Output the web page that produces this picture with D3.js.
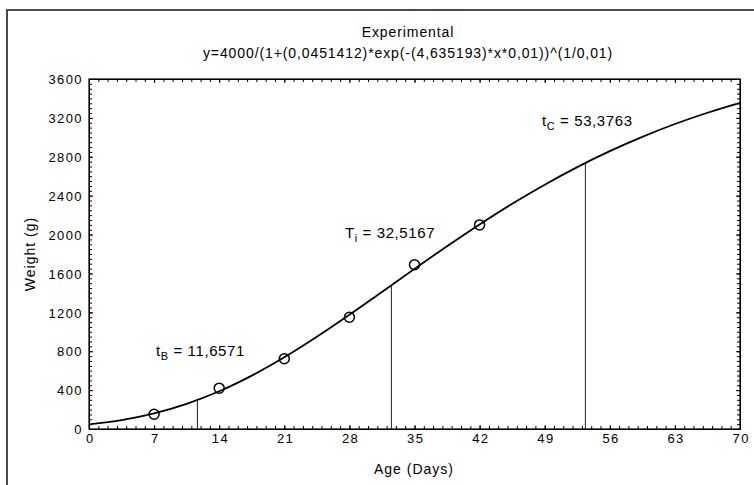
<!DOCTYPE html>
<html>
<head>
<meta charset="utf-8">
<script src="https://cdn.jsdelivr.net/npm/d3@7"></script>
<style>
html,body{margin:0;padding:0;background:#fff;}
svg{display:block;font-family:"Liberation Sans",Arial,sans-serif;}
</style>
</head>
<body>
<svg id="chart" width="754" height="485"></svg>
<script>
// ---- data ----
const titleText = "Experimental";
const formulaText = "y=4000/(1+(0,0451412)*exp(-(4,635193)*x*0,01))^(1/0,01)";
const xLabel = "Age (Days)";
const yLabel = "Weight (g)";
const xTickValues = [0, 7, 14, 21, 28, 35, 42, 49, 56, 63, 70];
const yTickValues = [0, 400, 800, 1200, 1600, 2000, 2400, 2800, 3200, 3600];
const curveDays = [0, 3.5, 7, 10.5, 14, 17.5, 21, 24.5, 28, 31.5, 35, 38.5, 42, 45.5, 49, 52.5, 56, 59.5, 63, 66.5, 70];
const curveWeight = [48, 92, 161, 259, 388, 549, 737, 948, 1174, 1410, 1647, 1880, 2104, 2316, 2513, 2694, 2858, 3005, 3137, 3253, 3355];
const obsDays = [7, 14, 21, 28, 35, 42];
const obsWeight = [152, 420, 722, 1150, 1690, 2099];
const markerMain = ["t", "T", "t"];
const markerSub = ["B", "i", "C"];
const markerDays = [11.6571, 32.5167, 53.3763];
const markerValueText = ["11,6571", "32,5167", "53,3763"];
const markerWeight = [298, 1479, 2737];

// ---- layout ----
const svg = d3.select("#chart");
const L = 89, R = 740, T = 79, B = 429;
const x = d3.scaleLinear().domain([0, 70]).range([L, R]);
const y = d3.scaleLinear().domain([0, 3600]).range([B, T]);

// outer frame
svg.append("rect").attr("x", 7).attr("y", 10).attr("width", 760).attr("height", 490)
  .attr("fill", "none").attr("stroke", "#4a4a4a").attr("stroke-width", 2);

// titles
svg.append("text").attr("x", 408).attr("y", 37).attr("text-anchor", "middle")
  .style("font-size", "14px").style("letter-spacing", "0.9px").text(titleText);
svg.append("text").attr("x", 408).attr("y", 58).attr("text-anchor", "middle")
  .style("font-size", "14px").style("letter-spacing", "0.9px").text(formulaText);

// axes (ticks inside on all four sides)
const minorX = d3.range(0, 71, 1);
const minorY = d3.range(0, 3601, 50);
function tickAxis(axisGen, tr) {
  return svg.append("g").attr("transform", tr).call(axisGen)
    .call(g => g.select(".domain").attr("stroke", "#000"))
    .call(g => g.selectAll(".tick line").attr("stroke", "#000"));
}
// minor ticks
tickAxis(d3.axisBottom(x).tickValues(minorX).tickSize(-3).tickFormat(""), `translate(0,${B})`);
tickAxis(d3.axisTop(x).tickValues(minorX).tickSize(-3).tickFormat(""), `translate(0,${T})`);
tickAxis(d3.axisLeft(y).tickValues(minorY).tickSize(-3).tickFormat(""), `translate(${L},0)`);
tickAxis(d3.axisRight(y).tickValues(minorY).tickSize(-3).tickFormat(""), `translate(${R},0)`);
// major ticks + labels
const xAx = tickAxis(d3.axisBottom(x).tickValues(xTickValues).tickSize(-4).tickPadding(14).tickFormat(d3.format("d")), `translate(0,${B})`);
xAx.selectAll("text").style("font-size", "13px").style("letter-spacing", "1.4px").attr("fill", "#000").attr("dy", "0").attr("dx", "0.7px");
const yAx = tickAxis(d3.axisLeft(y).tickValues(yTickValues).tickSize(-4).tickPadding(6).tickFormat(d3.format("d")), `translate(${L},0)`);
yAx.selectAll("text").style("font-size", "13px").style("letter-spacing", "1.4px").attr("fill", "#000").attr("dy", "0.36em");
tickAxis(d3.axisTop(x).tickValues(xTickValues).tickSize(-4).tickFormat(""), `translate(0,${T})`);
tickAxis(d3.axisRight(y).tickValues(yTickValues).tickSize(-4).tickFormat(""), `translate(${R},0)`);

// plot frame
svg.append("rect").attr("x", L).attr("y", T).attr("width", R - L).attr("height", B - T)
  .attr("fill", "none").attr("stroke", "#000").attr("stroke-width", 1.2);

// axis titles
svg.append("text").attr("x", 414).attr("y", 474).attr("text-anchor", "middle")
  .style("font-size", "14px").style("letter-spacing", "1px").text(xLabel);
svg.append("text").attr("transform", `translate(35,${(T + B) / 2}) rotate(-90)`).attr("text-anchor", "middle")
  .style("font-size", "14px").style("letter-spacing", "1px").text(yLabel);

// marker vertical lines
svg.append("g").selectAll("line").data(markerDays).join("line")
  .attr("x1", d => x(d)).attr("x2", d => x(d))
  .attr("y1", y(0)).attr("y2", (d, i) => y(markerWeight[i]))
  .attr("stroke", "#222").attr("stroke-width", 1);

// fitted curve
const pts = curveDays.map((d, i) => [d, curveWeight[i]]);
svg.append("path").datum(pts)
  .attr("d", d3.line().x(d => x(d[0])).y(d => y(d[1])).curve(d3.curveCatmullRom))
  .attr("fill", "none").attr("stroke", "#000").attr("stroke-width", 1.8);

// observed points
svg.append("g").selectAll("circle").data(obsDays).join("circle")
  .attr("cx", d => x(d)).attr("cy", (d, i) => y(obsWeight[i])).attr("r", 5)
  .attr("fill", "none").attr("stroke", "#000").attr("stroke-width", 1.5);

// annotations
const annPos = [[156, 356], [345, 238], [542, 126]];
markerMain.forEach((m, i) => {
  const t = svg.append("text").attr("x", annPos[i][0]).attr("y", annPos[i][1])
    .style("font-size", "15px").style("letter-spacing", "0.6px");
  t.append("tspan").text(m);
  t.append("tspan").attr("dy", 4).style("font-size", "11px").text(markerSub[i]);
  t.append("tspan").attr("dy", -4).text(" = " + markerValueText[i]);
});
</script>
</body>
</html>
